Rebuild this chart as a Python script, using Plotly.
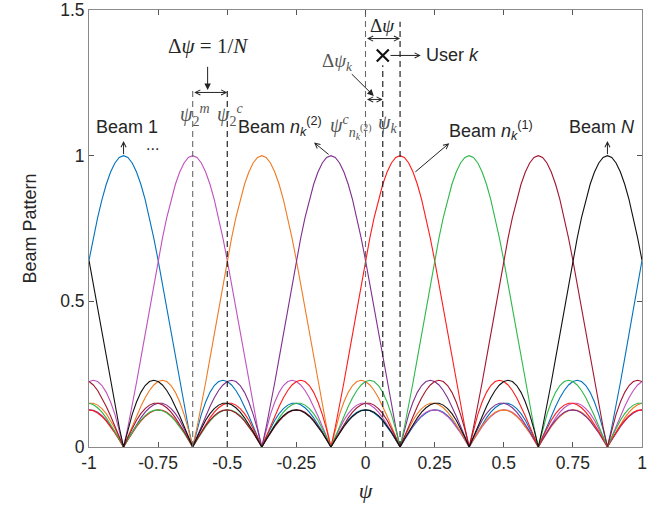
import plotly.graph_objects as go

# ---------------- data ----------------
N_BEAMS = 8
beam_centers = [-0.875, -0.625, -0.375, -0.125, 0.125, 0.375, 0.625, 0.875]
beam_colors = ["#0072BD", "#C050BE", "#F07A22", "#7E2F8E",
               "#FF1A1A", "#2DB84A", "#A2142F", "#111111"]
# beam-pattern profile versus offset from beam centre, offset = k/64, k = 0..64
profile = [1.0, 0.99369, 0.97487, 0.94401, 0.90177, 0.84906, 0.78706, 0.71711,
           0.64073, 0.55956, 0.47529, 0.38969, 0.30449, 0.22139, 0.14199, 0.06776,
           0.0, 0.06018, 0.11188, 0.15446, 0.18750, 0.21086, 0.22463, 0.22916,
           0.22499, 0.21292, 0.19387, 0.16894, 0.13933, 0.10632, 0.07123, 0.03537,
           0.0, 0.03367, 0.06456, 0.09171, 0.11434, 0.13184, 0.14378, 0.14995,
           0.15034, 0.14511, 0.13464, 0.11945, 0.10022, 0.07775, 0.05292, 0.02667,
           0.0, 0.02614, 0.05081, 0.07314, 0.09237, 0.10784, 0.11905, 0.12565,
           0.12745, 0.12443, 0.11675, 0.10472, 0.08882, 0.06964, 0.04789, 0.02439,
           0.0]
STEPS = 64
x_ticks = [-1, -0.75, -0.5, -0.25, 0, 0.25, 0.5, 0.75, 1]
x_ticklabels = ["-1", "-0.75", "-0.5", "-0.25", "0", "0.25", "0.5", "0.75", "1"]
y_ticks = [0, 0.5, 1, 1.5]
y_ticklabels = ["0", "0.5", "1", "1.5"]

psi_grid_idx = list(range(0, 2 * STEPS + 1))  # psi = -1 + j/64

fig = go.Figure()
for c, col in zip(beam_centers, beam_colors):
    cidx = int(round((c + 1) * STEPS))
    xs, ys = [], []
    for j in psi_grid_idx:
        m = abs(j - cidx)
        if m > STEPS:
            m = 2 * STEPS - m
        xs.append(-1 + j / STEPS)
        ys.append(profile[m])
    fig.add_trace(go.Scatter(x=xs, y=ys, mode="lines",
                             line=dict(color=col, width=1.1),
                             showlegend=False, hoverinfo="skip"))

# vertical dashed markers
vlines = [(-0.625, 1.235, "#6a6a6a"), (-0.5, 1.235, "#111111"),
          (0.0, 1.5, "#6a6a6a"), (0.0625, 1.31, "#111111"),
          (0.125, 1.46, "#111111")]
for xv, ytop, col in vlines:
    fig.add_trace(go.Scatter(x=[xv, xv], y=[0, ytop], mode="lines",
                             line=dict(color=col, width=1.1, dash="6px,4px"),
                             showlegend=False, hoverinfo="skip"))

# user marker
fig.add_trace(go.Scatter(x=[0.0625], y=[1.344], mode="markers",
                         marker=dict(symbol="x-thin", size=12,
                                     line=dict(color="#111111", width=2.2)),
                         showlegend=False, hoverinfo="skip"))

TXT = "#262626"
MATH = "#555555"
sans = "Liberation Sans, Arial, sans-serif"
serif = "Liberation Serif, Times New Roman, serif"


def text(x, y, s, size=18, color=TXT, family=sans, xanchor="center"):
    fig.add_annotation(x=x, y=y, text=s, showarrow=False, xref="x", yref="y",
                       font=dict(size=size, color=color, family=family),
                       xanchor=xanchor, yanchor="middle")


def arrow(x0, y0, x1, y1, head=5, side="end", size=1.0):
    # arrow from (x0,y0) to head at (x1,y1)
    fig.add_annotation(x=x1, y=y1, ax=x0, ay=y0, xref="x", yref="y",
                       axref="x", ayref="y", text="", showarrow=True,
                       arrowhead=head, arrowside=side, arrowsize=size,
                       arrowwidth=1, arrowcolor="#222222", startarrowhead=head,
                       startarrowsize=size)


# Beam labels
text(-0.862, 1.10, "Beam 1")
arrow(-0.875, 1.0, -0.875, 1.05)
text(-0.77, 1.04, "...", size=16)
text(-0.31, 1.10, "Beam <i>n</i><sub><i>k</i></sub><sup>(2)</sup>")
arrow(-0.128, 1.0, -0.186, 1.045)
text(0.455, 1.085, "Beam <i>n</i><sub><i>k</i></sub><sup>(1)</sup>")
arrow(0.175, 0.94, 0.303, 1.043)
text(0.855, 1.10, "Beam <i>N</i>")
arrow(0.875, 1.0, 0.875, 1.05)

# Delta psi = 1/N
text(-0.571, 1.378, "Δ<i>ψ</i> = 1/<i>N</i>", size=21, family=serif)
arrow(-0.571, 1.31, -0.571, 1.225, head=2, size=1.3)
arrow(-0.625, 1.217, -0.5, 1.217, head=5, side="end+start")
text(-0.617, 1.14, "<i>ψ</i><sub>2</sub><sup><i>m</i></sup>", size=20,
     color=MATH, family=serif)
text(-0.49, 1.14, "<i>ψ</i><sub>2</sub><sup><i>c</i></sup>", size=20,
     color=MATH, family=serif)

# Delta psi (right)
text(0.062, 1.447, "Δ<i>ψ</i>", size=19, family=serif)
arrow(0.0, 1.402, 0.125, 1.402, head=5, side="end+start")
arrow(0.085, 1.344, 0.2, 1.344, head=5)
text(0.213, 1.344, "User <i>k</i>", xanchor="left")

# Delta psi_k
text(-0.1, 1.32, "Δ<i>ψ</i><sub><i>k</i></sub>", size=19, color=MATH,
     family=serif)
arrow(-0.055, 1.285, 0.03, 1.205, head=2, size=1.3)
arrow(0.0, 1.193, 0.0625, 1.193, head=5, side="end+start")
text(-0.055, 1.10, "<i>ψ</i><sup><i>c</i></sup><sub><i>n</i><sub><i>k</i></sub><sup>(2)</sup></sub>",
     size=20, color=MATH, family=serif)
text(0.08, 1.11, "<i>ψ</i><sub><i>k</i></sub>", size=20, color=MATH,
     family=serif)

axis_common = dict(showline=True, linecolor="#8a8a8a", linewidth=1,
                   mirror="ticks", ticks="inside", ticklen=5,
                   tickcolor="#555555", showgrid=False, zeroline=False,
                   automargin=False,
                   tickfont=dict(size=17.5, color=TXT, family=sans))

fig.update_layout(
    width=661, height=508,
    margin=dict(l=89, r=19, t=10, b=61),
    paper_bgcolor="white", plot_bgcolor="white",
    xaxis=dict(range=[-1, 1], tickvals=x_ticks, ticktext=x_ticklabels,
               title=dict(text="<i>ψ</i>", font=dict(size=22, color=TXT,
                                                      family=serif),
                          standoff=10),
               **axis_common),
    yaxis=dict(range=[0, 1.5], tickvals=y_ticks, ticktext=y_ticklabels,
               title=dict(text="Beam Pattern", font=dict(size=18, color=TXT,
                                                          family=sans),
                          standoff=18),
               **axis_common),
)

fig.write_html("out.html")
